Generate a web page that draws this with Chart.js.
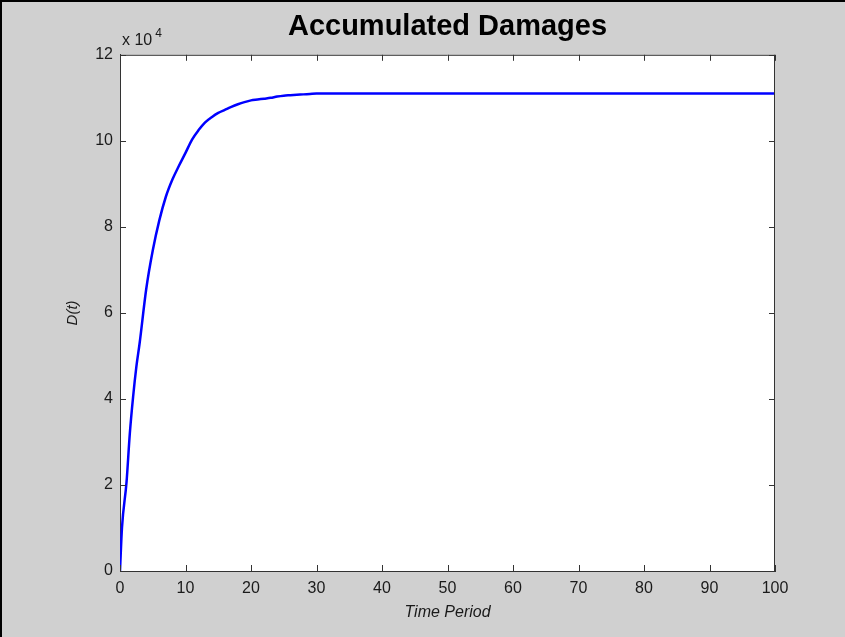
<!DOCTYPE html>
<html>
<head>
<meta charset="utf-8">
<script src="https://cdn.jsdelivr.net/npm/chart.js@4.4.0/dist/chart.umd.min.js"></script>
<style>
  html, body { margin: 0; padding: 0; background: #d0d0d0; }
  #wrap { width: 845px; height: 637px; position: relative; }
</style>
</head>
<body>
<div id="wrap"><canvas id="damageChart" width="845" height="637"></canvas></div>
<script>
// time periods and accumulated damages
const timePeriods = [0, 0.3, 1, 1.5, 2, 2.5, 3, 4, 5, 6, 7, 8, 9, 10, 11, 12, 13, 14, 15, 16, 17, 18, 19, 20,
  21, 22, 23, 24, 25, 26, 27, 28, 29, 30, 40, 50, 60, 70, 80, 90, 100]
const damages = [0, 10000, 20700, 32000, 40500, 47500, 53000, 65500, 74500, 81500, 87000, 91000,
  94200, 97200, 100300, 102500, 104300, 105500, 106500, 107200, 107900, 108500, 109000, 109400,
  109600, 109800, 110000, 110300, 110500, 110600, 110700, 110800, 110900, 111000,
  111000, 111000, 111000, 111000, 111000, 111000, 111000]
const xTicks = [0, 10, 20, 30, 40, 50, 60, 70, 80, 90, 100]
const yTicks = [0, 20000, 40000, 60000, 80000, 100000, 120000]

const axisColor = '#333333'
const textColor = '#1a1a1a'

const matlabFrame = {
  id: 'matlabFrame',
  beforeDraw(chart) {
    const ctx = chart.ctx
    ctx.save()
    ctx.fillStyle = '#d0d0d0'
    ctx.fillRect(0, 0, chart.width, chart.height)
    const a = chart.chartArea
    ctx.fillStyle = '#ffffff'
    ctx.fillRect(a.left, a.top, a.right - a.left, a.bottom - a.top)
    // figure border (top and left only)
    ctx.fillStyle = '#000000'
    ctx.fillRect(0, 0, chart.width, 2)
    ctx.fillRect(0, 0, 2, chart.height)
    ctx.restore()
  },
  afterDraw(chart) {
    const ctx = chart.ctx
    const a = chart.chartArea
    const xs = chart.scales.x
    const ys = chart.scales.y
    ctx.save()
    ctx.strokeStyle = axisColor
    ctx.lineWidth = 1
    ctx.beginPath()
    // top and right frame
    ctx.moveTo(a.left, a.top + 0.5)
    ctx.lineTo(a.right, a.top + 0.5)
    ctx.moveTo(a.right - 0.5, a.top)
    ctx.lineTo(a.right - 0.5, a.bottom)
    // inward ticks
    xTicks.forEach(v => {
      const px = Math.round(xs.getPixelForValue(v)) + 0.5
      ctx.moveTo(px, a.bottom); ctx.lineTo(px, a.bottom - 6)
      ctx.moveTo(px, a.top); ctx.lineTo(px, a.top + 6)
    })
    yTicks.forEach(v => {
      const py = Math.round(ys.getPixelForValue(v)) + 0.5
      ctx.moveTo(a.left, py); ctx.lineTo(a.left + 6, py)
      ctx.moveTo(a.right, py); ctx.lineTo(a.right - 6, py)
    })
    ctx.stroke()
    // exponent note
    ctx.fillStyle = textColor
    ctx.textBaseline = 'alphabetic'
    ctx.font = '16px "Liberation Sans", Arial, sans-serif'
    ctx.fillText('x 10', a.left + 2, a.top - 10)
    const w = ctx.measureText('x 10').width
    ctx.font = '12px "Liberation Sans", Arial, sans-serif'
    ctx.fillText('4', a.left + 5 + w, a.top - 18)
    ctx.restore()
  }
}

const ctx = document.getElementById('damageChart').getContext('2d')
new Chart(ctx, {
  type: 'line',
  data: {
    datasets: [{
      label: 'D(t)',
      data: timePeriods.map((t, i) => ({ x: t, y: damages[i] })),
      borderColor: '#0000ff',
      borderWidth: 2.5,
      pointRadius: 0,
      cubicInterpolationMode: 'monotone',
      fill: false
    }]
  },
  options: {
    responsive: false,
    animation: false,
    layout: { padding: { left: 0, right: 70, top: 0, bottom: 0 } },
    plugins: {
      legend: { display: false },
      tooltip: { enabled: false },
      title: {
        display: true,
        text: 'Accumulated Damages',
        fullSize: false,
        color: '#000000',
        font: { family: '"Liberation Sans", Arial, sans-serif', size: 29, weight: 'bold' },
        padding: { top: 10, bottom: 10 }
      }
    },
    scales: {
      x: {
        type: 'linear',
        min: 0,
        max: 100,
        afterBuildTicks: scale => { scale.ticks = xTicks.map(v => ({ value: v })) },
        afterFit: scale => { scale.height = 66 },
        grid: { drawOnChartArea: false, drawTicks: false },
        border: { color: axisColor, width: 1 },
        ticks: {
          color: textColor,
          padding: 8,
          maxRotation: 0,
          font: { family: '"Liberation Sans", Arial, sans-serif', size: 16 }
        },
        title: {
          display: true,
          text: 'Time Period',
          color: textColor,
          padding: { top: 2, bottom: 15 },
          font: { family: '"Liberation Sans", Arial, sans-serif', size: 16, style: 'italic' }
        }
      },
      y: {
        min: 0,
        max: 120000,
        afterBuildTicks: scale => { scale.ticks = yTicks.map(v => ({ value: v })) },
        afterFit: scale => { scale.width = 120 },
        grid: { drawOnChartArea: false, drawTicks: false },
        border: { color: axisColor, width: 1 },
        ticks: {
          color: textColor,
          padding: 7,
          font: { family: '"Liberation Sans", Arial, sans-serif', size: 16 },
          callback: v => String(v / 10000)
        },
        title: {
          display: true,
          text: 'D(t)',
          color: textColor,
          padding: { top: 64, bottom: 0 },
          font: { family: '"Liberation Sans", Arial, sans-serif', size: 15, style: 'italic' }
        }
      }
    }
  },
  plugins: [matlabFrame]
})
</script>
</body>
</html>
